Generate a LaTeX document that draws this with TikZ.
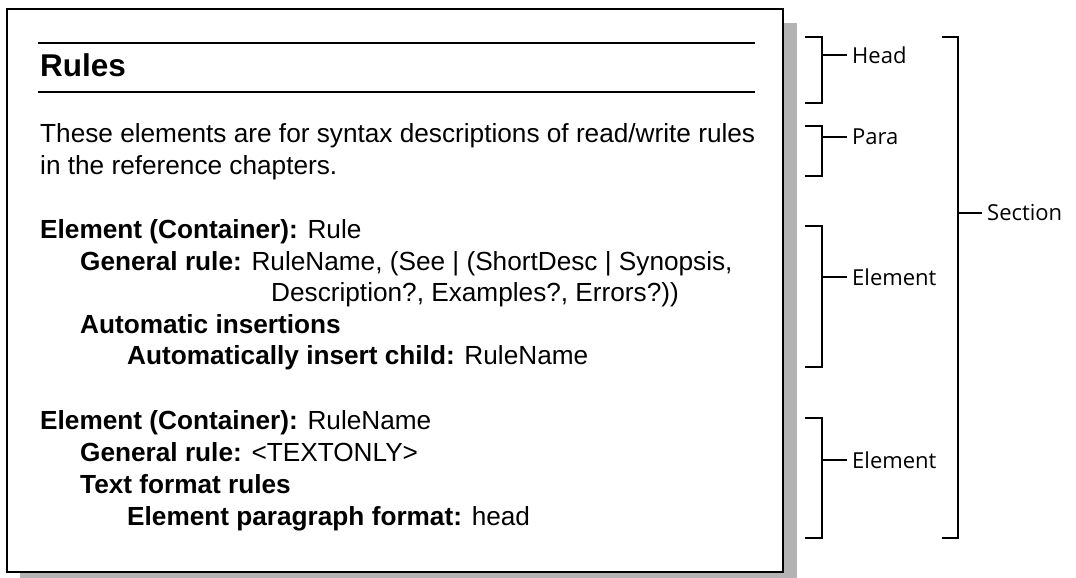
\documentclass[tikz,border=0pt]{standalone}
\usepackage{fontspec}
\setmainfont{Liberation Sans}
\newfontfamily\labfont{Open Sans}
\definecolor{shadowgray}{HTML}{B3B3B3}
\begin{document}
\begin{tikzpicture}[x=1pt,y=-1pt,
  body/.style={anchor=base west, inner sep=0pt, font=\fontsize{26.2}{30}\selectfont},
  headtext/.style={anchor=base west, inner sep=0pt, font=\bfseries\fontsize{31.5}{36}\selectfont},
  rulerline/.style={line width=1.3pt},
  brk/.style={line width=2pt},
  lab/.style={anchor=west, inner xsep=5pt, inner ysep=0pt, font=\labfont\fontsize{22}{26}\selectfont}]
\useasboundingbox (0,0) rectangle (1076,578);
% page with shadow
\fill[shadowgray] (20,23) rectangle (797,590);
\draw[line width=1.4pt, fill=white] (7,9) rectangle (783,572);
% head rules
\coordinate (r1a) at (38,43); \coordinate (r1b) at (755,43);
\coordinate (r2a) at (38,92); \coordinate (r2b) at (755,92);
\draw[rulerline] (r1a) -- (r1b);
\draw[rulerline] (r2a) -- (r2b);
\node[headtext] (rules) at (40,77) {Rules};
% body text
\node[body] (p1) at (40,142) {These elements are for syntax descriptions of read/write rules};
\node[body] (p2) at (40,174) {in the reference chapters.};
\node[body] (e1a) at (40,238) {\textbf{Element (Container):} Rule};
\node[body] (e1b) at (80,270) {\textbf{General rule:} RuleName, (See | (ShortDesc | Synopsis,};
\node[body] (e1c) at (271,301) {Description?, Examples?, Errors?))};
\node[body] (e1d) at (80,333) {\textbf{Automatic insertions}};
\node[body] (e1e) at (127,364) {\textbf{Automatically insert child:} RuleName};
\node[body] (e2a) at (40,429) {\textbf{Element (Container):} RuleName};
\node[body] (e2b) at (80,461) {\textbf{General rule:} <TEXTONLY>};
\node[body] (e2c) at (80,493) {\textbf{Text format rules}};
\node[body] (e2d) at (127,525) {\textbf{Element paragraph format:} head};
% brackets
\node[lab] (lhead) at (847,55) {Head};
\draw[brk] (805,37) -- (822,37) -- (822,103) -- (805,103);
\draw[brk] (822,55) -- (lhead.west);
\node[lab] (lpara) at (847,137) {Para};
\draw[brk] (805,126) -- (822,126) -- (822,176) -- (805,176);
\draw[brk] (822,137) -- (lpara.west);
\node[lab] (lel1) at (847,277) {Element};
\draw[brk] (805,226) -- (822,226) -- (822,367) -- (805,367);
\draw[brk] (822,277) -- (lel1.west);
\node[lab] (lel2) at (847,460) {Element};
\draw[brk] (805,418) -- (822,418) -- (822,538) -- (805,538);
\draw[brk] (822,460) -- (lel2.west);
\node[lab] (lsec) at (982,213) {Section};
\draw[brk] (942,37) -- (958,37) -- (958,538) -- (942,538);
\draw[brk] (958,213) -- (lsec.west);
\end{tikzpicture}
\end{document}
